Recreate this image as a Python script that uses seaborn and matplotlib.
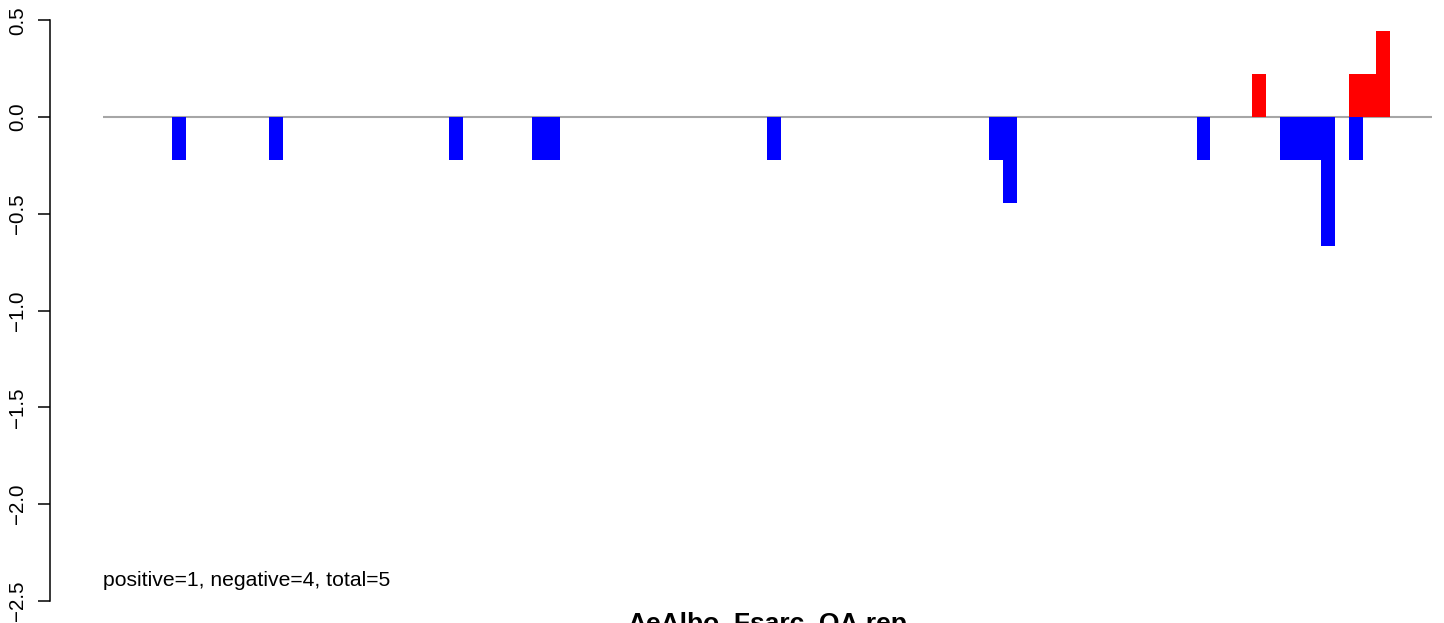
import matplotlib
matplotlib.use('Agg')
import matplotlib.pyplot as plt
import numpy as np
import pandas as pd
import seaborn as sns

# bin index (left edge) and value for each bar
neg_bins = [5, 12, 25, 31, 32, 48, 64, 65, 79, 85, 86, 87, 88, 90]
neg_values = [-0.222, -0.222, -0.222, -0.222, -0.222, -0.222, -0.222, -0.444,
              -0.222, -0.222, -0.222, -0.222, -0.667, -0.222]
pos_bins = [83, 90, 91, 92]
pos_values = [0.222, 0.222, 0.222, 0.444]

n_bins = 96
y_ticks = [-2.5, -2.0, -1.5, -1.0, -0.5, 0.0, 0.5]
title = 'AeAlbo_Fsarc_OA.rep'
summary = 'positive=1, negative=4, total=5'

bars = pd.DataFrame({
    'bin': neg_bins + pos_bins,
    'value': neg_values + pos_values,
    'sign': ['neg'] * len(neg_bins) + ['pos'] * len(pos_bins),
})
bars['centre'] = bars['bin'] + 0.5

sns.set_theme(style='white')
plt.rcParams['font.family'] = ['Liberation Sans', 'DejaVu Sans']
plt.rcParams['text.color'] = 'black'
plt.rcParams['ytick.color'] = 'black'
plt.rcParams['ytick.labelcolor'] = 'black'

W, H, DPI = 1444, 623, 100
fig = plt.figure(figsize=(W / DPI, H / DPI), dpi=DPI)
# plot region as in the original (partly outside the saved picture)
ax = fig.add_axes([50 / W, (H - 624) / H, 1435 / W, 627 / H])

ax.hlines(0, 0, n_bins, color='#a6a6a6', linewidth=1.5, zorder=1)
sns.barplot(data=bars, x='centre', y='value', hue='sign', native_scale=True,
            palette={'neg': '#0000ff', 'pos': '#ff0000'}, saturation=1,
            width=1, linewidth=0, errorbar=None, dodge=False, legend=False,
            ax=ax, zorder=2)

ax.set_xlim(-0.04 * n_bins, 1.04 * n_bins)
ax.set_ylim(-2.62, 0.62)
ax.set_xlabel('')
ax.set_ylabel('')
ax.set_xticks([])
ax.set_yticks(y_ticks)
ax.set_yticklabels([f'{t:.1f}'.replace('-', '\u2212') for t in y_ticks],
                   rotation=90, va='center', fontsize=14.8, color='black')
ax.tick_params(axis='y', left=True, length=8.6, width=1.1, color='black',
               pad=8)
for side in ['top', 'right', 'bottom']:
    ax.spines[side].set_visible(False)
ax.spines['left'].set_bounds(-2.5, 0.5)
ax.spines['left'].set_color('black')
ax.spines['left'].set_linewidth(1.1)
ax.patch.set_alpha(0)

ax.text(0, -2.395, summary, ha='left', va='center', fontsize=15.2,
        color='black')
fig.text(767.5 / W, (H - 631) / H, title, ha='center', va='baseline',
         fontsize=19, fontweight='bold', color='black')

fig.savefig('out.png', dpi=DPI, facecolor='white')
